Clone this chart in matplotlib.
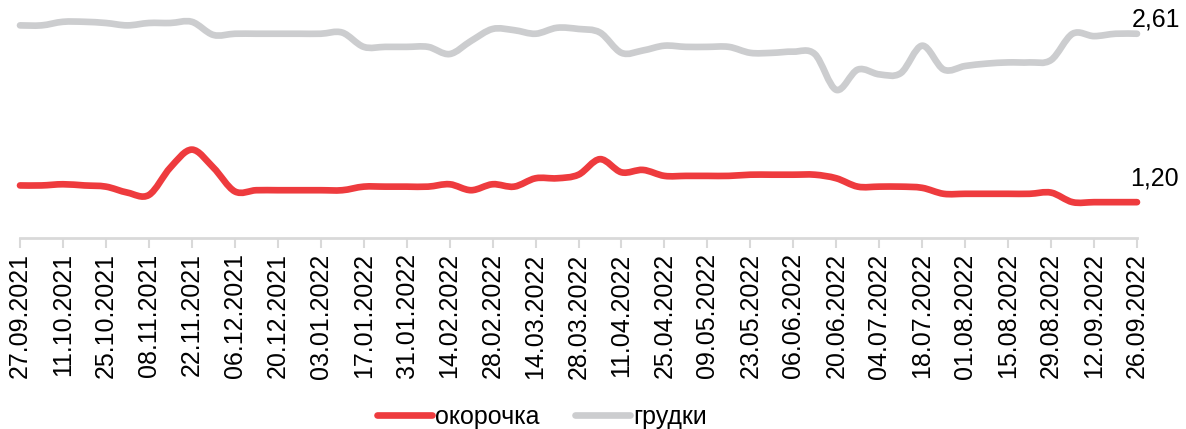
import matplotlib.pyplot as plt
import numpy as np
import pandas as pd
from matplotlib.lines import Line2D
from matplotlib.patches import PathPatch
from matplotlib.path import Path

plt.rcParams['font.family'] = ['Liberation Sans', 'DejaVu Sans']

# weekly prices, 27.09.2021 .. 26.09.2022
weeks = pd.date_range('2021-09-27', '2022-09-26', freq='7D')

legs = [1.34, 1.34, 1.35, 1.34, 1.33, 1.28, 1.26, 1.49, 1.64, 1.49,
        1.29, 1.30, 1.30, 1.30, 1.30, 1.30, 1.33, 1.33, 1.33, 1.33,
        1.35, 1.30, 1.35, 1.33, 1.40, 1.40, 1.43, 1.56, 1.45, 1.47,
        1.42, 1.42, 1.42, 1.42, 1.43, 1.43, 1.43, 1.43, 1.40, 1.33,
        1.33, 1.33, 1.32, 1.27, 1.27, 1.27, 1.27, 1.27, 1.28, 1.20,
        1.20, 1.20, 1.20]

breasts = [2.68, 2.68, 2.71, 2.71, 2.70, 2.68, 2.70, 2.70, 2.71, 2.60,
           2.61, 2.61, 2.61, 2.61, 2.61, 2.62, 2.50, 2.50, 2.50, 2.50,
           2.44, 2.55, 2.65, 2.64, 2.61, 2.66, 2.65, 2.62, 2.45, 2.47,
           2.51, 2.50, 2.50, 2.50, 2.45, 2.45, 2.46, 2.44, 2.14, 2.31,
           2.27, 2.28, 2.51, 2.31, 2.34, 2.36, 2.37, 2.37, 2.39, 2.61,
           2.59, 2.61, 2.61]

series_names = ['окорочка', 'грудки']
series_colors = ['#EE3B3E', '#CCCDCF']
tick_labels = [d.strftime('%d.%m.%Y') for d in weeks[::2]]


def smooth_path(x, y):
    # cubic bezier through every point, like a "smoothed line" in a spreadsheet
    n = len(x)
    pts = np.column_stack([x, y]).astype(float)
    verts = [tuple(pts[0])]
    codes = [Path.MOVETO]
    for i in range(n - 1):
        p0 = pts[max(i - 1, 0)]
        p1 = pts[i]
        p2 = pts[i + 1]
        p3 = pts[min(i + 2, n - 1)]
        c1 = p1 + (p2 - p0) / 6
        c2 = p2 - (p3 - p1) / 6
        verts += [tuple(c1), tuple(c2), tuple(p2)]
        codes += [Path.CURVE4] * 3
    return Path(verts, codes)


fig = plt.figure(figsize=(11.86, 4.29), dpi=100)
ax = fig.add_axes([20 / 1186, 191 / 429, 1117 / 1186, 238.9 / 429])

x = np.arange(len(weeks))
for vals, color in zip([legs, breasts], series_colors):
    patch = PathPatch(smooth_path(x, vals), fill=False, edgecolor=color,
                      lw=4.8, capstyle='round', joinstyle='round', clip_on=False)
    ax.add_patch(patch)

ax.set_xlim(0, len(weeks) - 1)
ax.set_ylim(0.9, 2.9)

ax.set_xticks(x[::2])
ax.set_xticklabels(tick_labels, rotation=90, fontsize=18)
ax.tick_params(axis='x', length=7, width=1.5, color='#D9D9D9', pad=4)
ax.set_yticks([])
for side in ['top', 'right', 'left']:
    ax.spines[side].set_visible(False)
ax.spines['bottom'].set_color('#D9D9D9')
ax.spines['bottom'].set_linewidth(2)

# last values
ax.annotate(f'{breasts[-1]:.2f}'.replace('.', ','), xy=(x[-1], breasts[-1]),
            xytext=(-5, 7), textcoords='offset pixels', fontsize=18,
            ha='left', va='baseline', annotation_clip=False)
ax.annotate(f'{legs[-1]:.2f}'.replace('.', ','), xy=(x[-1], legs[-1]),
            xytext=(-7, 17), textcoords='offset pixels', fontsize=18,
            ha='left', va='baseline', annotation_clip=False)

handles = [Line2D([], [], color=c, lw=4.8, solid_capstyle='round')
           for c in series_colors]
fig.legend(handles, series_names, loc='center', bbox_to_anchor=(542 / 1186, 12 / 429),
           ncol=2, frameon=False, fontsize=18, handlelength=2.2,
           handletextpad=0.15, columnspacing=1.4, borderaxespad=0)

fig.savefig('out.png', dpi=100)
